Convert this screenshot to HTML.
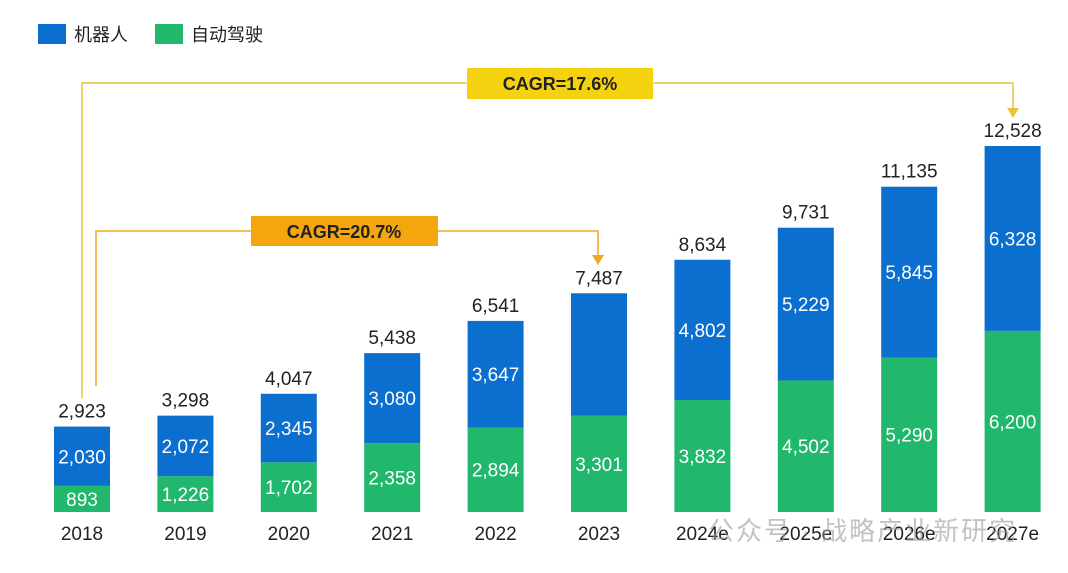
<!DOCTYPE html>
<html><head><meta charset="utf-8">
<style>
html,body{margin:0;padding:0;background:#fff;}
svg{display:block;font-family:"Liberation Sans","Noto Sans CJK SC",sans-serif;}
</style></head>
<body>
<svg id="chart" width="1068" height="573" viewBox="0 0 1068 573">
  <g>
    <rect x="38" y="24" width="28" height="20" fill="#0b6fd0"/>
    <text x="74" y="41" font-size="18" fill="#222">机器人</text>
    <rect x="155" y="24" width="28" height="20" fill="#21b76c"/>
    <text x="191" y="41" font-size="18" fill="#222">自动驾驶</text>
  </g>
  <g id="bars"></g>
  <g>
    <polyline points="82,398 82,83 1013,83 1013,110" fill="none" stroke="#e9c43a" stroke-width="1.5"/>
    <polygon points="1007,108 1019,108 1013,118" fill="#e9c43a"/>
    <rect x="467" y="68" width="186" height="31" fill="#f4d20f"/>
    <text x="560" y="90" font-size="18" font-weight="bold" text-anchor="middle" fill="#222">CAGR=17.6%</text>
  </g>
  <g>
    <polyline points="96,386 96,231 598,231 598,257" fill="none" stroke="#f0a525" stroke-width="1.5"/>
    <polygon points="592,255 604,255 598,265" fill="#f0a525"/>
    <rect x="251" y="216" width="187" height="30" fill="#f5a60f"/>
    <text x="344" y="238" font-size="18" font-weight="bold" text-anchor="middle" fill="#222">CAGR=20.7%</text>
  </g>
  <text x="708" y="540" font-size="26" letter-spacing="2" fill="#9a9a9a" opacity="0.6">公众号 · 战略产业新研究</text>
</svg>
<script>
const categories = ["2018","2019","2020","2021","2022","2023","2024e","2025e","2026e","2027e"];
const autoDrive = [893,1226,1702,2358,2894,3301,3832,4502,5290,6200];
const robot = [2030,2072,2345,3080,3647,4186,4802,5229,5845,6328];
const robotLabels = ["2,030","2,072","2,345","3,080","3,647","","4,802","5,229","5,845","6,328"];
const totalLabels = ["2,923","3,298","4,047","5,438","6,541","7,487","8,634","9,731","11,135","12,528"];

const baseY = 512, plotH = 366, maxV = 12528;
const x0 = 82, step = 103.4, bw = 56;
function xCenter(i){ return x0 + i*step; }
function yScale(v){ return baseY - v/maxV*plotH; }
function fmt(v){ return v.toLocaleString('en-US'); }
const NS = "http://www.w3.org/2000/svg";
const g = document.getElementById('bars');
function mk(tag, attrs, txt){
  const e = document.createElementNS(NS, tag);
  for (const k in attrs) e.setAttribute(k, attrs[k]);
  if (txt !== undefined) e.textContent = txt;
  g.appendChild(e); return e;
}
categories.forEach((c,i)=>{
  const cx = xCenter(i);
  const yG = yScale(autoDrive[i]);
  const yT = yScale(autoDrive[i] + robot[i]);
  const r1 = mk('rect', {x: cx-bw/2, y: yG, width: bw, height: baseY-yG, fill:'#21b76c'});
  
  
  const r2 = mk('rect', {x: cx-bw/2, y: yT, width: bw, height: yG-yT, fill:'#0b6fd0'});
  
  
  const t1 = mk('text', {x: cx, y: (yG+baseY)/2+7, 'font-size':19, fill:'#fff', 'text-anchor':'middle'}, fmt(autoDrive[i]));
  
  
  if (robotLabels[i]) {
    const t2 = mk('text', {x: cx, y: (yT+yG)/2+7, 'font-size':19, fill:'#fff', 'text-anchor':'middle'}, robotLabels[i]);
    
    
  }
  const t3 = mk('text', {x: cx, y: yT-9, 'font-size':19, fill:'#222', 'text-anchor':'middle'}, totalLabels[i]);
  
  
  const t4 = mk('text', {x: cx, y: 540, 'font-size':19, fill:'#222', 'text-anchor':'middle'}, c);
  
  
});
</script>
</body></html>
